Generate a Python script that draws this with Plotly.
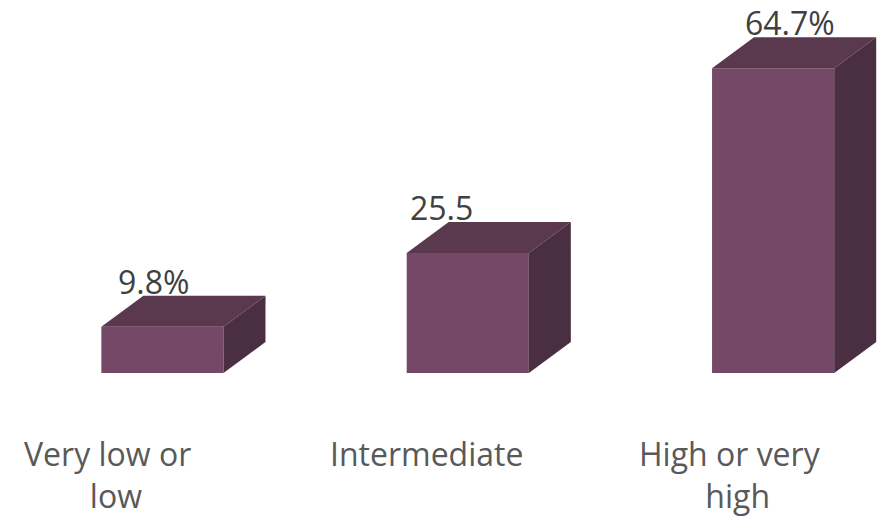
import plotly.graph_objects as go

categories = ["Very low or<br>low", "Intermediate", "High or very<br>high"]
values = [9.8, 25.5, 64.7]
value_labels = ["9.8%", "25.5", "64.7%"]

FRONT = "#744866"
TOP = "#5A394F"
SIDE = "#4A2E42"
FONT = "Open Sans"

W, H = 887, 519
ML, MR, MT, MB = 25, 7, 0, 146
XR = [-0.45, 2.35]
YR = [0, 79.2]
px_x = (W - ML - MR) / (XR[1] - XR[0])
px_y = (H - MT - MB) / (YR[1] - YR[0])
BW = 0.4
DX = 42 / px_x
DY = 31 / px_y

xs = list(range(len(categories)))
fig = go.Figure()
fig.add_trace(go.Bar(x=xs, y=values, width=BW, marker=dict(color=FRONT, line=dict(width=0)),
                     hoverinfo="skip", showlegend=False))
for i, v in zip(xs, values):
    l, r = i - BW / 2, i + BW / 2
    fig.add_trace(go.Scatter(x=[l, r, r + DX, l + DX, l], y=[v, v, v + DY, v + DY, v],
                             fill="toself", fillcolor=TOP, line=dict(width=0), mode="lines",
                             hoverinfo="skip", showlegend=False))
    fig.add_trace(go.Scatter(x=[r, r + DX, r + DX, r, r], y=[0, DY, v + DY, v, 0],
                             fill="toself", fillcolor=SIDE, line=dict(width=0), mode="lines",
                             hoverinfo="skip", showlegend=False))

label_xshift = [-9, -26, 17]
for i, v, t, s in zip(xs, values, value_labels, label_xshift):
    fig.add_annotation(x=i, y=v + DY, text=t, showarrow=False, xanchor="center", yanchor="bottom",
                       xshift=s, yshift=-9, font=dict(family=FONT, size=32, color="#404040"))

cat_xshift = [-46, -41, -36]
for i, c, s in zip(xs, categories, cat_xshift):
    fig.add_annotation(x=i, y=0, yref="paper", text=c.replace("<br>", "&nbsp;&nbsp;<br>"),
                       showarrow=False, xanchor="center", yanchor="top", xshift=s, yshift=-57,
                       align="center", font=dict(family=FONT, size=32, color="#595959"))

fig.update_layout(width=W, height=H, margin=dict(l=ML, r=MR, t=MT, b=MB),
                  paper_bgcolor="white", plot_bgcolor="white", showlegend=False,
                  xaxis=dict(range=XR, visible=False, fixedrange=True),
                  yaxis=dict(range=YR, visible=False, fixedrange=True))
fig.write_html("out.html", config={"displayModeBar": False},
               post_script="document.body.style.margin='0';document.body.style.overflow='hidden';")
